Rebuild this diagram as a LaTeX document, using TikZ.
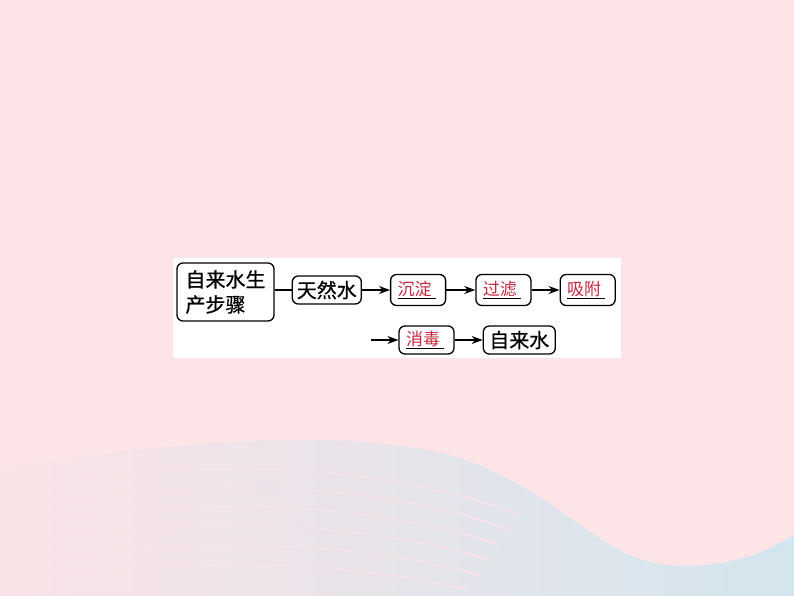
\documentclass[tikz,border=0pt]{standalone}
\usepackage{fontspec}
\usepackage{xcolor}
\usepackage{tikz}
\usetikzlibrary{arrows.meta,positioning}
\newfontfamily\cjk{Noto Sans CJK SC}[FakeBold=0.6]
\newfontfamily\cjkthin{Noto Sans CJK SC}
\definecolor{slidepink}{HTML}{FDE5E7}
\definecolor{wavepink}{HTML}{FAE3E7}
\definecolor{wavemid}{HTML}{E6E2EA}
\definecolor{waveblue}{HTML}{D3E5EE}
\definecolor{ansred}{HTML}{C4283F}

\begin{document}
\begin{tikzpicture}[x=1pt,y=-1pt,
  stepbox/.style={draw,rounded corners=6pt,line width=1.3pt,font=\cjk\fontsize{20}{25}\selectfont,inner sep=0pt,minimum height=28pt},
  blank/.style={stepbox,font=\cjkthin\fontsize{17}{20}\selectfont,text width=41pt,align=left,inner xsep=7pt,minimum height=31pt},
  flow/.style={line width=1.3pt,-{Stealth[length=11pt,width=8pt]}}]
\useasboundingbox (0,0) rectangle (794,596);
% slide background
\fill[slidepink] (0,0) rectangle (794,596);
\shade[left color=wavepink,middle color=wavemid,right color=waveblue]
  (0,468) .. controls (150,445) and (330,425) .. (450,455)
  .. controls (520,475) and (570,520) .. (610,545)
  .. controls (640,562) and (660,566) .. (690,566)
  .. controls (740,564) and (770,550) .. (794,535)
  -- (794,596) -- (0,596) -- cycle;
\draw[slidepink,line width=3pt,opacity=0.45] (0,490) .. controls (180,462) and (360,455) .. (520,515);
\draw[slidepink,line width=3pt,opacity=0.45] (0,508) .. controls (180,480) and (360,475) .. (510,530);
\draw[slidepink,line width=3pt,opacity=0.45] (0,526) .. controls (180,500) and (350,495) .. (500,545);
\draw[slidepink,line width=3pt,opacity=0.45] (0,544) .. controls (180,520) and (340,515) .. (490,560);
\draw[slidepink,line width=3pt,opacity=0.45] (0,562) .. controls (180,540) and (330,535) .. (480,575);
\draw[slidepink,line width=3pt,opacity=0.45] (0,580) .. controls (180,560) and (320,556) .. (470,590);
% white panel
\fill[white] (173,258) rectangle (621,358);

% first row
\node[stepbox,align=left,minimum width=97pt,minimum height=58pt] (steps) at (225.5,292) {自来水生\\产步骤};
\node[stepbox,minimum width=69pt,right=17pt of steps,yshift=2pt] (raw) {天然水};
\node[blank,right=28pt of raw] (settle) {\underline{\textcolor{ansred}{沉淀}\hspace{4pt}}};
\node[blank,right=29pt of settle] (filter) {\underline{\textcolor{ansred}{过滤}\hspace{4pt}}};
\node[blank,right=28pt of filter] (adsorb) {\underline{\textcolor{ansred}{吸附}\hspace{4pt}}};

% second row
\node[blank,minimum height=28pt] (disinfect) at (426.5,340) {\underline{\textcolor{ansred}{消毒}\hspace{4pt}}};
\coordinate[left=27pt of disinfect] (in2);
\node[stepbox,minimum width=72pt,right=28pt of disinfect] (tap) {自来水};

\draw[line width=1.3pt] (steps.east|-raw.west) -- (raw.west);
\draw[flow] (raw) -- (settle);
\draw[flow] (settle) -- (filter);
\draw[flow] (filter) -- (adsorb);
\draw[flow] (in2) -- (disinfect);
\draw[flow] (disinfect) -- (tap);
\end{tikzpicture}
\end{document}
